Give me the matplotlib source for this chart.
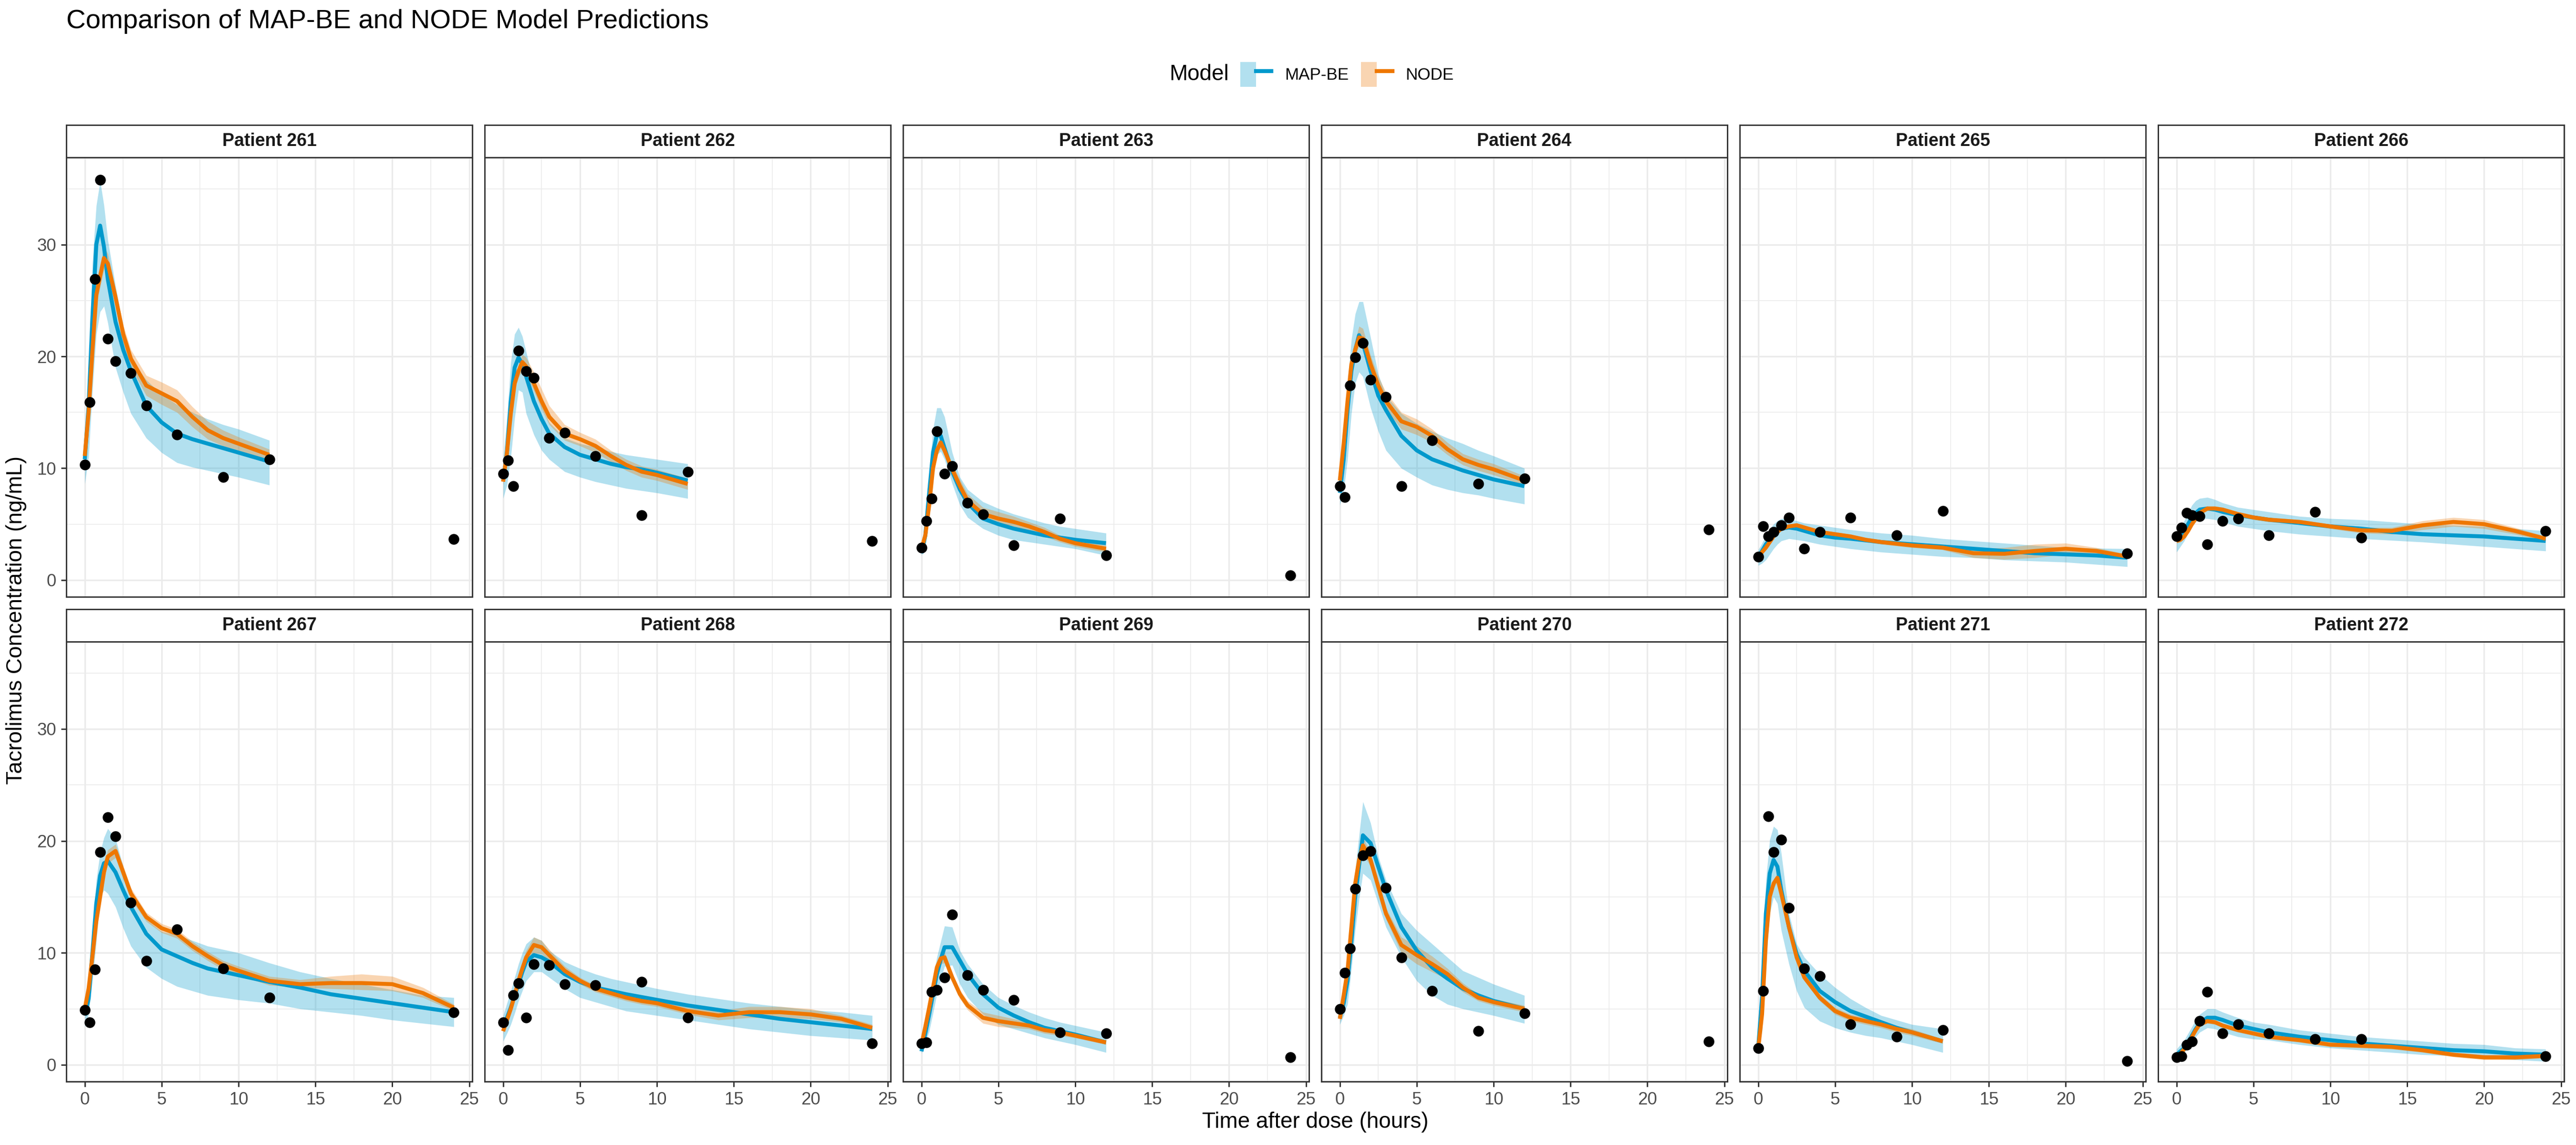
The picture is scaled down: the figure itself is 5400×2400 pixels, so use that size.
#### Workspace setup ####
import matplotlib
matplotlib.use('Agg')
import matplotlib.pyplot as plt
from matplotlib.patches import Patch
from matplotlib.lines import Line2D
from matplotlib.legend_handler import HandlerTuple

plt.rcParams['font.family'] = ['Liberation Sans', 'DejaVu Sans']

#### Data ####
PATIENTS = [261, 262, 263, 264, 265, 266, 267, 268, 269, 270, 271, 272]

# sampling times of the measured concentrations (same for every patient)
OBS_TIME = [0, 0.33, 0.67, 1, 1.5, 2, 3, 4, 6, 9, 12, 24]
OBS_CONC = [
    [10.3, 15.9, 26.9, 35.8, 21.6, 19.6, 18.5, 15.6, 13.0, 9.2, 10.8, 3.65],
    [9.5, 10.7, 8.4, 20.5, 18.7, 18.1, 12.7, 13.2, 11.1, 5.8, 9.7, 3.5],
    [2.9, 5.3, 7.3, 13.3, 9.5, 10.2, 6.9, 5.9, 3.1, 5.5, 2.2, 0.44],
    [8.4, 7.4, 17.4, 19.9, 21.2, 17.9, 16.4, 8.4, 12.5, 8.6, 9.1, 4.5],
    [2.1, 4.8, 3.9, 4.3, 4.9, 5.6, 2.8, 4.3, 5.6, 4.0, 6.2, 2.4],
    [3.9, 4.7, 6.0, 5.8, 5.7, 3.2, 5.3, 5.5, 4.0, 6.1, 3.8, 4.4],
    [4.9, 3.8, 8.5, 19.0, 22.1, 20.4, 14.5, 9.3, 12.1, 8.6, 6.0, 4.7],
    [3.8, 1.3, 6.2, 7.3, 4.2, 9.0, 8.9, 7.2, 7.1, 7.4, 4.2, 1.9],
    [1.9, 2.0, 6.5, 6.7, 7.8, 13.4, 8.0, 6.7, 5.8, 2.9, 2.8, 0.66],
    [5.0, 8.2, 10.4, 15.7, 18.7, 19.1, 15.8, 9.6, 6.6, 3.0, 4.6, 2.1],
    [1.5, 6.6, 22.2, 19.0, 20.1, 14.0, 8.6, 7.9, 3.6, 2.5, 3.1, 0.33],
    [0.66, 0.75, 1.8, 2.1, 3.9, 6.5, 2.8, 3.6, 2.8, 2.3, 2.3, 0.75],
]

# prediction time grid; 12 h curves use the first 18 points
CURVE_TIME = [0, 0.25, 0.5, 0.75, 1, 1.25, 1.5, 2, 2.5, 3, 4, 5, 6, 7, 8, 9, 10, 12,
              14, 16, 18, 20, 22, 24]

MAP_MID = [
    [10.8, 15.5, 23.5, 30.0, 31.7, 29.8, 26.9, 23.1, 20.6, 18.7, 15.6, 14.1, 13.1, 12.6, 12.2, 11.8, 11.4, 10.6],
    [8.9, 11.4, 16.0, 19.0, 19.9, 19.3, 18.2, 16.0, 14.4, 13.1, 11.9, 11.2, 10.8, 10.4, 10.1, 9.9, 9.6, 8.9],
    [2.4, 4.0, 7.8, 11.4, 13.0, 12.9, 11.8, 9.7, 8.1, 6.9, 5.5, 5.0, 4.6, 4.3, 4.0, 3.8, 3.6, 3.3],
    [7.8, 10.8, 15.2, 18.7, 20.6, 21.9, 21.2, 18.7, 16.5, 15.2, 12.9, 11.6, 10.8, 10.3, 9.8, 9.4, 9.0, 8.4],
    [2.1, 2.6, 3.2, 3.6, 4.0, 4.3, 4.6, 4.7, 4.6, 4.4, 4.0, 3.8, 3.7, 3.55, 3.4, 3.3, 3.2, 3.0, 2.8, 2.6, 2.4, 2.3, 2.2, 2.0],
    [3.5, 3.9, 4.3, 5.0, 5.6, 6.0, 6.3, 6.4, 6.3, 6.1, 5.8, 5.6, 5.4, 5.25, 5.1, 4.95, 4.8, 4.6, 4.3, 4.1, 4.0, 3.9, 3.7, 3.5],
    [4.4, 5.9, 10.0, 14.4, 16.9, 18.0, 18.2, 17.2, 15.6, 14.1, 11.7, 10.3, 9.7, 9.1, 8.6, 8.3, 8.0, 7.4, 6.9, 6.3, 5.9, 5.5, 5.1, 4.7],
    [3.3, 4.2, 5.1, 6.2, 7.2, 8.3, 9.2, 9.8, 9.6, 9.2, 8.1, 7.4, 6.9, 6.6, 6.3, 6.05, 5.8, 5.3, 4.9, 4.5, 4.1, 3.8, 3.5, 3.2],
    [1.2, 2.8, 4.5, 6.3, 8.1, 9.4, 10.5, 10.5, 9.3, 8.1, 6.3, 5.1, 4.4, 3.8, 3.3, 3.0, 2.7, 2.0],
    [4.2, 5.5, 7.5, 11.0, 15.0, 17.8, 20.5, 19.8, 17.7, 15.6, 12.3, 10.2, 8.7, 7.7, 6.8, 6.2, 5.7, 5.0],
    [1.5, 6.0, 13.5, 17.1, 18.3, 17.7, 15.6, 12.3, 9.9, 8.4, 6.6, 5.6, 4.8, 4.3, 3.8, 3.3, 2.9, 2.1],
    [0.9, 1.2, 1.5, 2.0, 2.6, 3.2, 3.7, 4.2, 4.2, 4.0, 3.5, 3.2, 2.9, 2.7, 2.5, 2.35, 2.2, 1.9, 1.7, 1.5, 1.3, 1.2, 1.0, 0.9],
]
MAP_LO = [
    [8.6, 11.0, 17.0, 22.0, 24.0, 24.5, 23.0, 19.0, 16.8, 14.9, 12.7, 11.4, 10.5, 10.1, 9.8, 9.5, 9.2, 8.5],
    [7.3, 8.5, 11.0, 14.5, 17.0, 16.8, 14.9, 13.0, 11.6, 10.8, 9.7, 9.2, 8.8, 8.5, 8.2, 8.0, 7.8, 7.3],
    [2.2, 3.0, 5.4, 9.0, 11.2, 11.5, 10.8, 8.6, 6.7, 5.6, 4.6, 4.0, 3.6, 3.4, 3.2, 3.0, 2.8, 2.2],
    [6.7, 8.0, 10.8, 14.9, 17.6, 18.6, 18.2, 15.4, 13.3, 11.6, 10.0, 9.2, 8.5, 8.1, 7.8, 7.6, 7.3, 6.8],
    [1.3, 1.5, 1.8, 2.3, 2.8, 3.2, 3.5, 3.7, 3.6, 3.5, 3.2, 3.0, 2.8, 2.65, 2.5, 2.4, 2.3, 2.1, 2.0, 1.8, 1.7, 1.6, 1.4, 1.2],
    [2.5, 3.0, 3.5, 4.2, 4.8, 5.2, 5.5, 5.5, 5.4, 5.2, 4.8, 4.6, 4.4, 4.25, 4.1, 4.0, 3.9, 3.7, 3.55, 3.4, 3.2, 3.0, 2.8, 2.6],
    [3.4, 4.5, 7.5, 11.0, 15.0, 15.6, 15.3, 14.1, 12.2, 10.6, 8.7, 7.7, 7.0, 6.6, 6.2, 6.0, 5.8, 5.5, 5.0, 4.7, 4.4, 4.0, 3.7, 3.4],
    [2.1, 2.8, 3.6, 4.6, 5.7, 6.6, 7.5, 8.3, 8.3, 7.8, 6.8, 6.0, 5.6, 5.2, 4.8, 4.6, 4.4, 4.0, 3.6, 3.2, 2.9, 2.6, 2.4, 2.2],
    [1.0, 1.9, 3.0, 4.6, 6.3, 7.6, 8.8, 8.9, 7.2, 6.0, 4.5, 3.6, 3.2, 2.8, 2.4, 2.1, 1.8, 1.1],
    [3.6, 4.4, 5.4, 8.5, 12.0, 14.8, 17.1, 16.5, 14.4, 12.3, 9.6, 7.5, 6.2, 5.4, 5.0, 4.7, 4.4, 3.7],
    [1.2, 3.0, 9.0, 13.5, 15.0, 14.4, 12.0, 9.0, 6.6, 5.1, 3.9, 3.3, 2.9, 2.6, 2.4, 2.1, 1.8, 1.1],
    [0.4, 0.7, 1.1, 1.5, 2.0, 2.5, 2.9, 3.3, 3.2, 2.9, 2.5, 2.3, 2.2, 2.0, 1.8, 1.65, 1.5, 1.3, 1.1, 0.9, 0.8, 0.6, 0.45, 0.3],
]
MAP_HI = [
    [12.0, 19.0, 28.5, 33.5, 35.7, 33.5, 30.4, 26.3, 22.6, 19.8, 17.9, 16.6, 15.7, 15.0, 14.4, 13.9, 13.5, 12.5],
    [10.8, 14.5, 19.5, 22.0, 22.6, 21.8, 20.4, 17.6, 15.6, 14.1, 12.7, 12.2, 11.9, 11.5, 11.2, 11.0, 10.8, 10.4],
    [2.8, 5.5, 9.5, 13.5, 15.4, 15.4, 14.6, 11.4, 9.2, 8.1, 7.0, 6.4, 5.9, 5.5, 5.1, 4.8, 4.6, 4.2],
    [8.9, 13.0, 17.5, 21.5, 23.8, 24.9, 24.9, 21.7, 18.4, 16.5, 14.9, 14.0, 13.3, 12.7, 12.2, 11.6, 11.1, 10.0],
    [2.7, 3.3, 4.0, 4.6, 5.0, 5.3, 5.5, 5.5, 5.3, 5.1, 4.9, 4.7, 4.5, 4.35, 4.2, 4.1, 4.0, 3.7, 3.5, 3.3, 3.1, 2.9, 2.85, 2.8],
    [4.1, 4.7, 5.3, 6.0, 6.7, 7.1, 7.3, 7.4, 7.2, 6.9, 6.5, 6.3, 6.1, 5.9, 5.7, 5.6, 5.5, 5.4, 5.2, 5.0, 4.9, 4.8, 4.6, 4.4],
    [5.3, 7.5, 12.0, 16.5, 19.0, 20.3, 21.1, 20.2, 17.7, 15.3, 13.0, 11.9, 11.6, 11.1, 10.6, 10.3, 10.0, 9.1, 8.3, 7.7, 7.2, 6.7, 6.2, 6.0],
    [4.4, 5.5, 6.6, 7.8, 9.0, 10.0, 10.8, 11.4, 11.1, 10.2, 9.2, 8.6, 8.1, 7.7, 7.4, 7.1, 6.8, 6.3, 5.9, 5.5, 5.2, 4.9, 4.7, 4.4],
    [1.8, 3.9, 6.0, 7.8, 9.6, 11.0, 12.4, 12.3, 10.2, 9.0, 7.2, 6.0, 5.3, 4.7, 4.2, 3.8, 3.5, 2.9],
    [5.1, 7.4, 9.9, 13.6, 17.4, 20.5, 23.5, 21.6, 18.6, 16.5, 13.5, 12.0, 10.8, 9.6, 8.4, 7.8, 7.2, 6.2],
    [2.4, 9.0, 16.5, 20.1, 21.3, 21.0, 18.9, 13.5, 10.8, 9.6, 8.1, 6.9, 5.9, 5.1, 4.4, 4.0, 3.6, 3.2],
    [1.4, 1.8, 2.2, 2.8, 3.4, 4.0, 4.5, 5.0, 5.0, 4.7, 4.2, 3.8, 3.6, 3.35, 3.1, 2.95, 2.8, 2.5, 2.3, 2.1, 1.9, 1.8, 1.5, 1.4],
]

NODE_MID = [
    [11.1, 15.0, 20.5, 25.5, 27.2, 28.8, 28.3, 25.3, 22.0, 19.8, 17.4, 16.7, 16.0, 14.6, 13.4, 12.7, 12.2, 11.2],
    [8.8, 11.4, 14.9, 17.6, 18.7, 19.5, 19.1, 17.6, 16.0, 14.6, 13.1, 12.6, 12.0, 11.1, 10.3, 9.7, 9.4, 8.6],
    [2.8, 4.0, 6.7, 10.0, 11.6, 12.3, 11.6, 9.9, 8.4, 7.1, 5.9, 5.5, 5.2, 4.8, 4.3, 3.7, 3.3, 2.8],
    [8.9, 12.2, 16.0, 19.3, 20.6, 21.7, 21.6, 19.3, 17.4, 16.0, 14.2, 13.7, 12.9, 11.7, 10.8, 10.3, 9.9, 8.9],
    [2.1, 2.5, 2.9, 3.4, 3.9, 4.3, 4.6, 4.8, 4.9, 4.7, 4.3, 4.1, 3.9, 3.6, 3.4, 3.25, 3.1, 2.9, 2.4, 2.35, 2.6, 2.8, 2.6, 2.1],
    [3.5, 3.6, 3.9, 4.4, 5.0, 5.5, 6.0, 6.4, 6.4, 6.3, 5.9, 5.6, 5.4, 5.3, 5.2, 5.0, 4.8, 4.45, 4.4, 4.9, 5.2, 5.0, 4.4, 3.7],
    [5.0, 6.8, 9.7, 12.8, 15.0, 17.2, 18.6, 19.1, 17.2, 15.3, 13.2, 12.2, 11.7, 10.6, 9.7, 8.9, 8.4, 7.5, 7.2, 7.3, 7.3, 7.2, 6.4, 5.1],
    [3.0, 4.0, 5.0, 6.2, 7.5, 8.6, 9.6, 10.7, 10.5, 9.8, 8.4, 7.5, 6.8, 6.4, 6.0, 5.7, 5.5, 4.8, 4.4, 4.7, 4.7, 4.5, 4.1, 3.3],
    [1.8, 3.4, 5.1, 6.9, 8.7, 9.5, 9.6, 7.8, 6.3, 5.3, 4.2, 3.9, 3.7, 3.5, 3.1, 2.9, 2.6, 2.0],
    [4.1, 6.2, 8.4, 12.3, 16.2, 18.3, 19.6, 18.3, 15.9, 13.5, 10.7, 9.8, 9.0, 8.1, 6.9, 6.0, 5.6, 5.0],
    [1.4, 4.5, 11.1, 15.0, 16.2, 16.7, 15.3, 12.3, 9.6, 7.8, 6.0, 4.8, 4.2, 3.9, 3.6, 3.2, 2.9, 2.1],
    [0.66, 1.0, 1.4, 1.9, 2.5, 3.1, 3.6, 3.9, 3.8, 3.5, 3.1, 2.8, 2.5, 2.35, 2.2, 2.0, 1.8, 1.7, 1.6, 1.3, 0.9, 0.66, 0.66, 0.8],
]
NODE_LO = [
    [10.7, 14.4, 19.7, 24.6, 26.2, 27.8, 27.4, 24.5, 21.2, 19.0, 16.5, 15.7, 15.0, 13.7, 12.6, 12.0, 11.6, 10.7],
    [8.5, 11.0, 14.4, 17.0, 18.1, 18.8, 18.4, 16.9, 15.3, 13.9, 12.5, 12.0, 11.4, 10.6, 9.8, 9.2, 8.9, 8.1],
    [2.6, 3.7, 6.3, 9.5, 11.1, 11.8, 11.1, 9.4, 7.9, 6.7, 5.5, 5.1, 4.8, 4.4, 3.9, 3.4, 3.0, 2.5],
    [8.6, 11.7, 15.4, 18.7, 20.0, 21.0, 20.9, 18.6, 16.7, 15.3, 13.5, 13.0, 12.3, 11.2, 10.3, 9.8, 9.4, 8.5],
    [1.9, 2.3, 2.7, 3.2, 3.7, 4.1, 4.4, 4.6, 4.7, 4.5, 4.1, 3.9, 3.7, 3.4, 3.2, 3.05, 2.9, 2.7, 2.0, 1.85, 2.0, 2.3, 2.3, 1.9],
    [3.3, 3.4, 3.7, 4.2, 4.8, 5.3, 5.8, 6.2, 6.2, 6.1, 5.7, 5.4, 5.2, 5.1, 5.0, 4.8, 4.6, 4.2, 4.1, 4.5, 4.8, 4.6, 4.1, 3.5],
    [4.7, 6.4, 9.2, 12.2, 14.4, 16.6, 18.0, 18.5, 16.6, 14.8, 12.8, 11.8, 11.3, 10.2, 9.3, 8.5, 8.0, 7.1, 6.9, 6.8, 6.7, 6.6, 6.0, 4.8],
    [2.8, 3.8, 4.8, 5.9, 7.1, 8.1, 9.0, 10.0, 9.9, 9.3, 8.0, 7.2, 6.5, 6.1, 5.7, 5.4, 5.2, 4.5, 4.0, 4.2, 4.2, 4.1, 3.8, 3.0],
    [1.6, 3.1, 4.8, 6.5, 8.3, 9.0, 9.1, 7.4, 5.9, 4.9, 3.7, 3.4, 3.3, 3.2, 2.8, 2.6, 2.4, 1.8],
    [3.8, 5.8, 8.0, 11.8, 15.6, 17.6, 18.9, 17.7, 15.4, 13.0, 10.0, 9.0, 8.3, 7.6, 6.5, 5.7, 5.3, 4.7],
    [1.2, 4.2, 10.7, 14.6, 15.8, 16.3, 14.9, 11.9, 9.3, 7.5, 5.7, 4.5, 3.9, 3.6, 3.3, 2.9, 2.6, 1.9],
    [0.5, 0.8, 1.2, 1.7, 2.3, 2.9, 3.4, 3.7, 3.6, 3.3, 2.9, 2.6, 2.3, 2.15, 2.0, 1.8, 1.6, 1.5, 1.4, 1.1, 0.7, 0.45, 0.45, 0.6],
]
NODE_HI = [
    [11.5, 15.6, 21.3, 26.4, 28.2, 29.8, 29.2, 26.1, 22.8, 20.6, 18.3, 17.7, 17.0, 15.5, 14.2, 13.4, 12.8, 11.7],
    [9.1, 11.8, 15.4, 18.2, 19.3, 20.2, 19.9, 18.6, 17.1, 15.6, 13.9, 13.2, 12.6, 11.6, 10.8, 10.2, 9.9, 9.1],
    [3.0, 4.3, 7.1, 10.5, 12.1, 12.8, 12.1, 10.4, 9.0, 7.7, 6.5, 6.1, 5.7, 5.2, 4.7, 4.0, 3.6, 3.1],
    [9.2, 12.7, 16.6, 19.9, 21.4, 22.7, 22.5, 20.1, 18.2, 16.8, 15.0, 14.4, 13.5, 12.3, 11.3, 10.8, 10.4, 9.3],
    [2.3, 2.7, 3.1, 3.6, 4.1, 4.5, 4.8, 5.0, 5.1, 4.9, 4.5, 4.3, 4.1, 3.8, 3.6, 3.45, 3.3, 3.1, 2.8, 2.9, 3.2, 3.3, 2.9, 2.3],
    [3.7, 3.8, 4.1, 4.6, 5.2, 5.7, 6.2, 6.6, 6.6, 6.5, 6.1, 5.8, 5.6, 5.5, 5.4, 5.2, 5.0, 4.7, 4.7, 5.3, 5.6, 5.4, 4.7, 3.9],
    [5.3, 7.2, 10.2, 13.4, 15.6, 17.8, 19.2, 19.7, 17.8, 15.8, 13.6, 12.6, 12.1, 11.0, 10.1, 9.3, 8.8, 7.9, 7.6, 7.9, 8.1, 7.9, 6.9, 5.4],
    [3.2, 4.2, 5.2, 6.5, 7.9, 9.1, 10.2, 11.4, 11.1, 10.3, 8.8, 7.8, 7.1, 6.7, 6.3, 6.0, 5.8, 5.1, 4.8, 5.2, 5.2, 5.0, 4.4, 3.6],
    [2.0, 3.7, 5.4, 7.3, 9.1, 10.0, 10.1, 8.2, 6.7, 5.7, 4.7, 4.4, 4.1, 3.8, 3.4, 3.2, 2.8, 2.2],
    [4.4, 6.6, 8.8, 12.8, 16.8, 19.0, 20.3, 18.9, 16.4, 14.0, 11.4, 10.6, 9.7, 8.6, 7.3, 6.3, 5.9, 5.3],
    [1.6, 4.8, 11.5, 15.4, 16.6, 17.1, 15.7, 12.7, 9.9, 8.1, 6.3, 5.1, 4.5, 4.2, 3.9, 3.5, 3.2, 2.3],
    [0.8, 1.2, 1.6, 2.1, 2.7, 3.3, 3.8, 4.1, 4.0, 3.7, 3.3, 3.0, 2.7, 2.55, 2.4, 2.2, 2.0, 1.9, 1.8, 1.5, 1.1, 0.9, 0.9, 1.0],
]

X_TICKS = [0, 5, 10, 15, 20, 25]
Y_TICKS = [0, 10, 20, 30]

#### Styling ####
MAP_COLOR = '#0099CC'
NODE_COLOR = '#EE7700'
GRID_COLOR = '#EBEBEB'
FRAME_COLOR = '#333333'

W, H = 5400, 2400
LEFT0, PANEL_W, GAP = 139, 851, 26
STRIP_TOP = [262, 1277]
STRIP_H = 68
PANEL_BOTTOM = [1251, 2267]

fig = plt.figure(figsize=(18, 8), dpi=300)

for k, pid in enumerate(PATIENTS):
    r, c = divmod(k, 6)
    x0 = LEFT0 + c * (PANEL_W + GAP)
    ptop = STRIP_TOP[r] + STRIP_H
    ax = fig.add_axes([x0 / W, 1 - PANEL_BOTTOM[r] / H, PANEL_W / W, (PANEL_BOTTOM[r] - ptop) / H])

    n = len(MAP_MID[k])
    t = CURVE_TIME[:n]
    ax.fill_between(t, MAP_LO[k], MAP_HI[k], color=MAP_COLOR, alpha=0.3, lw=0, zorder=2)
    ax.fill_between(t, NODE_LO[k], NODE_HI[k], color=NODE_COLOR, alpha=0.3, lw=0, zorder=2)
    ax.plot(t, MAP_MID[k], color=MAP_COLOR, lw=2.0, zorder=3, solid_capstyle='butt')
    ax.plot(t, NODE_MID[k], color=NODE_COLOR, lw=2.0, zorder=3, solid_capstyle='butt')
    ax.scatter(OBS_TIME, OBS_CONC[k], s=5.4 ** 2, color='black', lw=0, zorder=4)

    ax.set_xlim(-1.2, 25.2)
    ax.set_ylim(-1.5, 37.8)
    ax.set_xticks(X_TICKS)
    ax.set_xticks([2.5, 7.5, 12.5, 17.5, 22.5], minor=True)
    ax.set_yticks(Y_TICKS)
    ax.set_yticks([5, 15, 25, 35], minor=True)
    ax.grid(which='major', color=GRID_COLOR, lw=0.8)
    ax.grid(which='minor', color=GRID_COLOR, lw=0.4)
    ax.set_axisbelow(True)
    for s in ax.spines.values():
        s.set_color(FRAME_COLOR)
        s.set_linewidth(0.7)
    ax.tick_params(which='minor', length=0)
    ax.tick_params(which='major', length=2.75, width=0.7, color=FRAME_COLOR,
                   labelsize=8.8, labelcolor='#4D4D4D', pad=2.3)
    if c != 0:
        ax.tick_params(axis='y', left=False, labelleft=False)
    if r != 1:
        ax.tick_params(axis='x', bottom=False, labelbottom=False)

    # facet strip
    sax = fig.add_axes([x0 / W, 1 - ptop / H, PANEL_W / W, STRIP_H / H])
    sax.set_xticks([])
    sax.set_yticks([])
    for s in sax.spines.values():
        s.set_color(FRAME_COLOR)
        s.set_linewidth(0.7)
    sax.text(0.5, 0.5, f'Patient {pid}', transform=sax.transAxes, ha='center', va='center',
             fontsize=9, fontweight='bold', color='#1A1A1A')

# titles and axis labels
fig.text(LEFT0 / W, 1 - 45 / H, 'Comparison of MAP-BE and NODE Model Predictions',
         fontsize=13.5, ha='left', va='center')
fig.text(34 / W, 1 - 1300 / H, 'Tacrolimus Concentration (ng/mL)', rotation=90,
         fontsize=11, ha='center', va='center')
fig.text(2757 / W, 1 - 2352 / H, 'Time after dose (hours)', fontsize=11, ha='center', va='center')

# legend
fig.text(2576 / W, 1 - 156 / H, 'Model', fontsize=11, ha='right', va='center')
handles = [
    (Patch(facecolor=MAP_COLOR, alpha=0.3, edgecolor='none'), Line2D([], [], color=MAP_COLOR, lw=2.0)),
    (Patch(facecolor=NODE_COLOR, alpha=0.3, edgecolor='none'), Line2D([], [], color=NODE_COLOR, lw=2.0)),
]
fig.legend(handles, ['MAP-BE', 'NODE'], loc='center left', bbox_to_anchor=(2600 / W, 1 - 156 / H),
           ncol=2, frameon=False, fontsize=8.4, handlelength=1.86, handleheight=1.9,
           handletextpad=0.8, columnspacing=0.75, borderpad=0, borderaxespad=0,
           handler_map={tuple: HandlerTuple(ndivide=None)})

fig.savefig('out.png', dpi=300)
